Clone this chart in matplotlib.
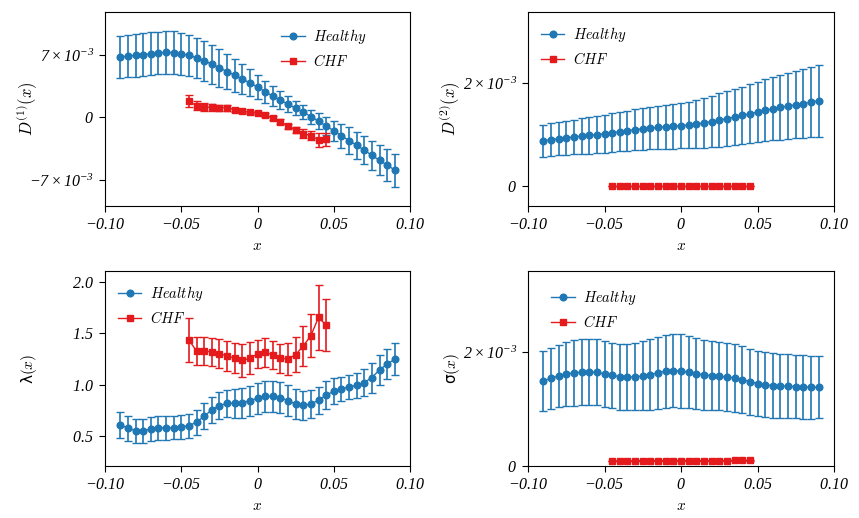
import numpy as np
import matplotlib
matplotlib.use("Agg")
import matplotlib.pyplot as plt

plt.rcParams["mathtext.fontset"] = "cm"
# italic serif used only for the tick labels (math_fontfamily="custom")
plt.rcParams["mathtext.rm"] = "Liberation Serif:italic"
plt.rcParams["mathtext.it"] = "Liberation Serif:italic"
plt.rcParams["font.size"] = 10

# bin centres
x_healthy = [-0.090, -0.085, -0.080, -0.075, -0.070, -0.065, -0.060, -0.055, -0.050,
             -0.045, -0.040, -0.035, -0.030, -0.025, -0.020, -0.015, -0.010, -0.005,
             0.000, 0.005, 0.010, 0.015, 0.020, 0.025, 0.030, 0.035, 0.040, 0.045,
             0.050, 0.055, 0.060, 0.065, 0.070, 0.075, 0.080, 0.085, 0.090]
x_chf = [-0.045, -0.040, -0.035, -0.030, -0.025, -0.020, -0.015, -0.010, -0.005,
         0.000, 0.005, 0.010, 0.015, 0.020, 0.025, 0.030, 0.035, 0.040, 0.045]

# drift coefficient D1 (units of 1e-3)
d1_healthy = [6.77, 6.88, 6.96, 7.03, 7.14, 7.22, 7.30, 7.26, 7.14, 6.96, 6.69, 6.35,
              5.97, 5.56, 5.14, 4.73, 4.31, 3.86, 3.40, 2.87, 2.38, 1.93, 1.47, 1.02,
              0.57, 0.08, -0.45, -0.98, -1.51, -2.08, -2.61, -3.14, -3.70, -4.27,
              -4.84, -5.37, -5.93]
d1_healthy_err = [2.38, 2.38, 2.39, 2.40, 2.41, 2.40, 2.39, 2.38, 2.37, 2.34, 2.27, 2.25,
                  2.19, 2.12, 2.00, 1.85, 1.70, 1.51, 1.36, 1.25, 1.13, 0.98, 0.87, 0.79,
                  0.76, 0.79, 0.91, 1.02, 1.13, 1.32, 1.47, 1.51, 1.59, 1.63, 1.70, 1.78,
                  1.85]
d1_chf = [1.81, 1.29, 1.17, 1.10, 1.06, 1.06, 0.85, 0.69, 0.54, 0.45, 0.26, -0.08,
          -0.49, -1.00, -1.40, -1.83, -2.07, -2.54, -2.48]
d1_chf_err = [0.68, 0.49, 0.45, 0.38, 0.30, 0.30, 0.23, 0.19, 0.19, 0.19, 0.19, 0.23,
              0.26, 0.30, 0.34, 0.49, 0.53, 0.76, 0.72]

# diffusion coefficient D2 (units of 1e-3)
d2_healthy = [0.883, 0.902, 0.922, 0.941, 0.954, 0.974, 0.986, 1.000, 1.019, 1.038,
              1.058, 1.077, 1.097, 1.116, 1.129, 1.142, 1.155, 1.162, 1.175, 1.188,
              1.207, 1.227, 1.253, 1.285, 1.311, 1.343, 1.376, 1.408, 1.441, 1.473,
              1.506, 1.532, 1.558, 1.584, 1.603, 1.635, 1.661]
d2_healthy_err = [0.309, 0.317, 0.324, 0.332, 0.339, 0.347, 0.355, 0.362, 0.370, 0.377,
                  0.385, 0.392, 0.400, 0.407, 0.415, 0.422, 0.428, 0.433, 0.440, 0.455,
                  0.470, 0.486, 0.502, 0.518, 0.533, 0.548, 0.562, 0.576, 0.590, 0.604,
                  0.618, 0.631, 0.644, 0.658, 0.671, 0.684, 0.698]
d2_chf = [0.003, 0.003, 0.003, 0.003, 0.003, 0.003, 0.003, 0.003, 0.003, 0.003,
          0.003, 0.003, 0.003, 0.003, 0.003, 0.003, 0.003, 0.003, 0.003]
d2_chf_err = [0.004, 0.004, 0.004, 0.004, 0.004, 0.004, 0.004, 0.004, 0.004, 0.004,
              0.004, 0.004, 0.004, 0.004, 0.004, 0.004, 0.004, 0.004, 0.004]

# jump rate lambda
lam_healthy = [0.611, 0.575, 0.552, 0.549, 0.568, 0.581, 0.581, 0.581, 0.588, 0.601,
               0.633, 0.692, 0.753, 0.795, 0.818, 0.818, 0.824, 0.844, 0.867, 0.886,
               0.886, 0.873, 0.844, 0.811, 0.798, 0.811, 0.847, 0.896, 0.935, 0.957,
               0.977, 0.993, 1.019, 1.068, 1.142, 1.200, 1.245]
lam_healthy_err = [0.126, 0.123, 0.117, 0.117, 0.113, 0.117, 0.117, 0.113, 0.113, 0.117,
                   0.123, 0.128, 0.130, 0.130, 0.130, 0.139, 0.146, 0.146, 0.152, 0.152,
                   0.152, 0.152, 0.149, 0.146, 0.143, 0.136, 0.133, 0.135, 0.126, 0.120,
                   0.117, 0.120, 0.130, 0.146, 0.143, 0.146, 0.155]
lam_chf = [1.433, 1.327, 1.327, 1.317, 1.298, 1.281, 1.255, 1.236, 1.255, 1.298,
           1.314, 1.288, 1.255, 1.249, 1.291, 1.375, 1.475, 1.653, 1.578]
lam_chf_err = [0.211, 0.136, 0.138, 0.133, 0.141, 0.146, 0.146, 0.159, 0.154, 0.139,
               0.141, 0.134, 0.138, 0.154, 0.172, 0.198, 0.212, 0.313, 0.254]

# jump amplitude sigma (units of 1e-3)
sig_healthy = [1.488, 1.534, 1.575, 1.610, 1.627, 1.639, 1.645, 1.639, 1.610, 1.587,
               1.563, 1.558, 1.558, 1.575, 1.598, 1.633, 1.656, 1.668, 1.662, 1.639,
               1.616, 1.593, 1.581, 1.569, 1.558, 1.540, 1.511, 1.476, 1.441, 1.418,
               1.407, 1.395, 1.395, 1.389, 1.383, 1.377, 1.377]
sig_healthy_err = [0.526, 0.529, 0.549, 0.564, 0.575, 0.578, 0.581, 0.578, 0.575, 0.572,
                   0.575, 0.581, 0.587, 0.604, 0.616, 0.631, 0.639, 0.642, 0.645, 0.633,
                   0.619, 0.607, 0.599, 0.593, 0.593, 0.587, 0.584, 0.578, 0.570, 0.567,
                   0.561, 0.558, 0.558, 0.555, 0.555, 0.552, 0.546]
sig_chf = [0.087, 0.087, 0.088, 0.088, 0.089, 0.089, 0.090, 0.090, 0.091, 0.091,
           0.092, 0.092, 0.093, 0.094, 0.095, 0.096, 0.097, 0.098, 0.099]
sig_chf_err = [0.008, 0.008, 0.008, 0.008, 0.008, 0.008, 0.008, 0.008, 0.008, 0.008,
               0.008, 0.008, 0.008, 0.008, 0.008, 0.008, 0.008, 0.008, 0.008]

x_ticks = [-0.10, -0.05, 0.0, 0.05, 0.10]
x_ticklabels = [r"$-0.10$", r"$-0.05$", r"$0$", r"$0.05$", r"$0.10$"]

BLUE = "#1f77b4"
RED = "#e41a1c"
TICKFONT = dict(math_fontfamily="custom", fontsize=11.5)
SCI7 = r"$7\times10^{-3}$"
SCIM7 = r"$-7\times10^{-3}$"
SCI2 = r"$2\times10^{-3}$"

fig = plt.figure(figsize=(8.59, 5.18), dpi=100)
W, H = 859, 518
boxes = [(105, 12, 305, 194), (528, 12, 306, 194), (105, 271, 305, 195), (528, 271, 306, 195)]
axs = [fig.add_axes([l / W, 1 - (t + h) / H, w / W, h / H]) for l, t, w, h in boxes]

panels = [
    (np.array(d1_healthy) * 1e-3, np.array(d1_healthy_err) * 1e-3,
     np.array(d1_chf) * 1e-3, np.array(d1_chf_err) * 1e-3),
    (np.array(d2_healthy) * 1e-3, np.array(d2_healthy_err) * 1e-3,
     np.array(d2_chf) * 1e-3, np.array(d2_chf_err) * 1e-3),
    (lam_healthy, lam_healthy_err, lam_chf, lam_chf_err),
    (np.array(sig_healthy) * 1e-3, np.array(sig_healthy_err) * 1e-3,
     np.array(sig_chf) * 1e-3, np.array(sig_chf_err) * 1e-3),
]

handles = []
for ax, (yh, eh, yc, ec) in zip(axs, panels):
    eb_h = ax.errorbar(x_healthy, yh, yerr=eh, fmt="-o", color=BLUE, ms=4.8, lw=1,
                       elinewidth=1.2, capsize=3)
    eb_c = ax.errorbar(x_chf, yc, yerr=ec, fmt="-s", color=RED, ms=4.2, lw=1,
                       elinewidth=1.2, capsize=3)
    handles.append([eb_h[0], eb_c[0]])
    ax.set_xlim(-0.1, 0.1)
    ax.set_xticks(x_ticks, x_ticklabels, **TICKFONT)
    ax.set_xlabel(r"$x$", fontsize=11)
    ax.tick_params(direction="out", length=4.5, top=False, right=False)
    ax.yaxis.set_label_coords(-0.215, 0.5)

leg_kw = dict(frameon=False, handlelength=1.6, handletextpad=0.6, fontsize=10.5)
labels = [r"$Healthy$", r"$CHF$"]

# D1
axs[0].set_ylim(-0.00997, 0.01183)
axs[0].set_yticks([0.007, 0.0, -0.007], [SCI7, r"$0$", SCIM7], **TICKFONT)
axs[0].set_ylabel(r"$D^{(1)}(x)$", fontsize=12)
axs[0].legend(handles[0], labels, loc="upper left", bbox_to_anchor=(0.535, 0.99), **leg_kw)

# D2
axs[1].set_ylim(-0.00039, 0.00339)
axs[1].set_yticks([0.002, 0.0], [SCI2, r"$0$"], **TICKFONT)
axs[1].set_ylabel(r"$D^{(2)}(x)$", fontsize=12)
axs[1].legend(handles[1], labels, loc="upper left", **leg_kw)

# lambda
axs[2].set_ylim(0.208, 2.104)
axs[2].set_yticks([0.5, 1.0, 1.5, 2.0], [r"$0.5$", r"$1.0$", r"$1.5$", r"$2.0$"], **TICKFONT)
axs[2].set_ylabel("λ$(x)$", fontsize=11)
axs[2].legend(handles[2], labels, loc="upper left", **leg_kw)

# sigma
axs[3].set_ylim(0.0, 0.00341)
axs[3].set_yticks([0.002, 0.0], [SCI2, r"$0$"], **TICKFONT)
axs[3].set_ylabel("σ$(x)$", fontsize=11)
axs[3].legend(handles[3], labels, loc="upper left", bbox_to_anchor=(0.033, 0.98), **leg_kw)

fig.savefig("out.png", dpi=100)
